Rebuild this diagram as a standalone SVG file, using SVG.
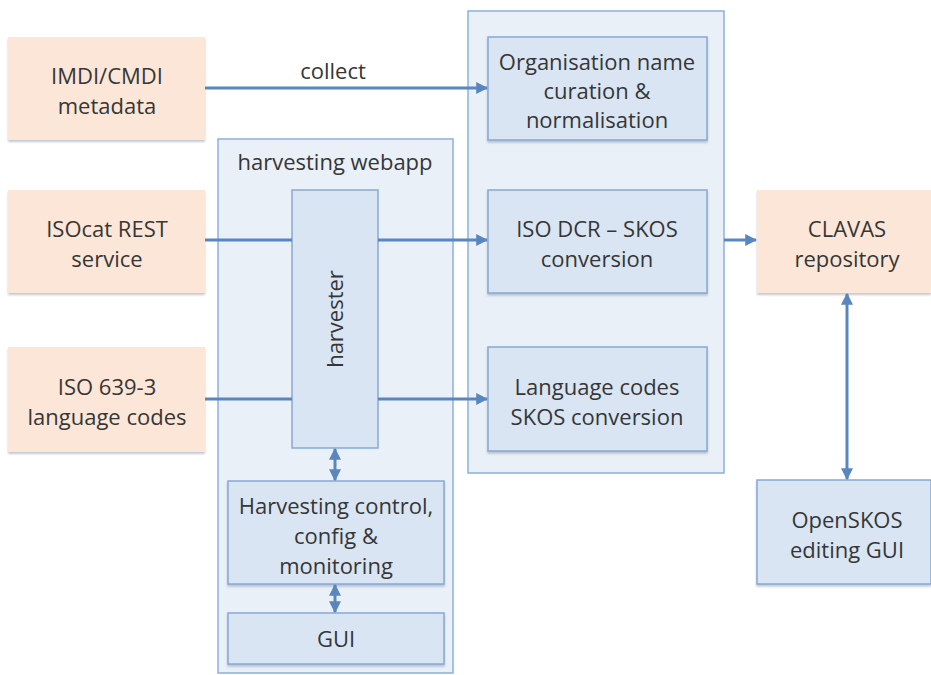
<svg xmlns="http://www.w3.org/2000/svg" width="931" height="675" viewBox="0 0 931 675">
<style>
.src{fill:#fbe6d8;stroke:none}
.cont{fill:#eaf0f8;stroke:#8db0da;stroke-width:1.5}
.blue{fill:#d9e5f3;stroke:#86a9d4;stroke-width:1.5}
.t{font-family:"Open Sans",Lato,sans-serif;font-size:22px;fill:#363636;text-anchor:middle}
.c{stroke:#5a86bf;stroke-width:3;fill:none}
</style>
<defs>
<filter id="sh" x="-5%" y="-5%" width="110%" height="115%"><feDropShadow dx="0" dy="2" stdDeviation="1.2" flood-color="#7a8899" flood-opacity="0.45"/></filter>
<marker id="ah" viewBox="0 0 10 10" refX="9" refY="5" markerWidth="4" markerHeight="4" orient="auto-start-reverse"><path d="M0,0 L10,5 L0,10 z" fill="#5a86bf"/></marker>
</defs>
<rect width="931" height="675" fill="#ffffff"/>
<g id="imdi"><rect class="src" x="8" y="37" width="197" height="103" filter="url(#sh)"/><text class="t" x="107" y="84">IMDI/CMDI</text><text class="t" x="107" y="114">metadata</text></g>
<g id="isocat"><rect class="src" x="8" y="190" width="197" height="103" filter="url(#sh)"/><text class="t" x="107" y="237">ISOcat REST</text><text class="t" x="107" y="267">service</text></g>
<g id="iso639"><rect class="src" x="8" y="347" width="197" height="105" filter="url(#sh)"/><text class="t" x="107" y="395">ISO 639-3</text><text class="t" x="107" y="425">language codes</text></g>
<g id="webapp"><rect class="cont" x="218" y="139" width="235" height="534"/><text class="t" x="335" y="170">harvesting webapp</text></g>
<g id="harvester"><rect class="blue" x="292" y="190" width="86" height="258"/><text class="t" transform="translate(343,319) rotate(-90)">harvester</text></g>
<g id="control"><rect class="blue" x="228" y="481" width="216" height="103" filter="url(#sh)"/><text class="t" x="336" y="514">Harvesting control,</text><text class="t" x="336" y="544">config &amp;</text><text class="t" x="336" y="574">monitoring</text></g>
<g id="gui"><rect class="blue" x="228" y="613" width="216" height="51" filter="url(#sh)"/><text class="t" x="336" y="647">GUI</text></g>
<g id="conversion"><rect class="cont" x="468" y="11" width="256" height="462"/></g>
<g id="org"><rect class="blue" x="488" y="37" width="219" height="103" filter="url(#sh)"/><text class="t" x="597" y="70">Organisation name</text><text class="t" x="597" y="99">curation &amp;</text><text class="t" x="597" y="128">normalisation</text></g>
<g id="dcr"><rect class="blue" x="488" y="190" width="219" height="103" filter="url(#sh)"/><text class="t" x="597" y="237">ISO DCR – SKOS</text><text class="t" x="597" y="267">conversion</text></g>
<g id="lang"><rect class="blue" x="488" y="347" width="219" height="104" filter="url(#sh)"/><text class="t" x="597" y="395">Language codes</text><text class="t" x="597" y="425">SKOS conversion</text></g>
<g id="clavas"><rect class="src" x="757" y="190" width="174" height="103" filter="url(#sh)"/><text class="t" x="847" y="237">CLAVAS</text><text class="t" x="847" y="267">repository</text></g>
<g id="openskos"><rect class="blue" x="757" y="480" width="174" height="104" filter="url(#sh)"/><text class="t" x="847" y="528">OpenSKOS</text><text class="t" x="847" y="558">editing GUI</text></g>
<g id="connectors">
<line class="c" x1="205" y1="88" x2="487" y2="88" marker-end="url(#ah)"/>
<text class="t" x="333" y="79">collect</text>
<line class="c" x1="205" y1="240" x2="292" y2="240"/>
<line class="c" x1="378" y1="240" x2="487" y2="240" marker-end="url(#ah)"/>
<line class="c" x1="205" y1="399" x2="292" y2="399"/>
<line class="c" x1="378" y1="399" x2="487" y2="399" marker-end="url(#ah)"/>
<line class="c" x1="724" y1="240" x2="756" y2="240" marker-end="url(#ah)"/>
<line class="c" x1="847" y1="294" x2="847" y2="479" marker-start="url(#ah)" marker-end="url(#ah)"/>
<line class="c" x1="335" y1="449" x2="335" y2="480" marker-start="url(#ah)" marker-end="url(#ah)"/>
<line class="c" x1="335" y1="585" x2="335" y2="612" marker-start="url(#ah)" marker-end="url(#ah)"/>
</g>
</svg>
